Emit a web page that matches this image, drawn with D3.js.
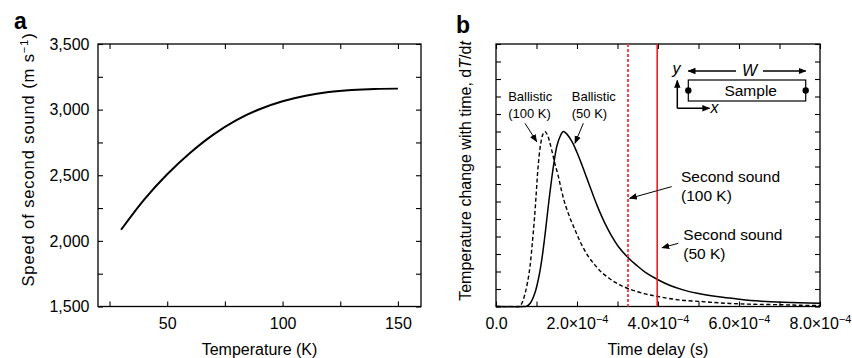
<!DOCTYPE html>
<html>
<head>
<meta charset="utf-8">
<script src="https://cdn.jsdelivr.net/npm/d3@7"></script>
<style>
  body { margin: 0; background: #fff; }
  svg { display: block; font-family: "Liberation Sans", Arial, sans-serif; }
  .tick line { stroke: #000; stroke-width: 1.1; }
  .tick text { font-size: 16px; fill: #000; }
</style>
</head>
<body>
<div id="chart"></div>
<script>
// panel a: speed of second sound vs temperature
const temperatureK = [30, 40, 50, 60, 70, 80, 90, 100, 110, 120, 130, 140, 150];
const speedSecondSound = [2085, 2315, 2508, 2672, 2810, 2920, 3003, 3064, 3106, 3134, 3150, 3158, 3160];

// panel b: time delay in units of 1e-4 s, dT/dt in arbitrary units
const time50K = [0, 0.70, 0.76, 0.85, 0.96, 1.05, 1.13, 1.20, 1.25, 1.31, 1.375, 1.44, 1.50, 1.58, 1.66, 1.75, 1.87, 2.0, 2.12, 2.24, 2.36, 2.5, 2.69, 2.85, 3.02, 3.27, 3.5, 3.68, 4.0, 4.3, 4.62, 5.0, 5.45, 6.0, 6.5, 7.09, 7.5, 8.0];
const dTdt50K = [0, 0, 0.02, 0.2, 0.77, 1.6, 2.67, 3.9, 4.9, 6.1, 7.3, 8.35, 9.14, 9.7, 10.0, 9.85, 9.45, 8.8, 8.1, 7.35, 6.6, 5.75, 4.75, 4.05, 3.43, 2.77, 2.3, 1.97, 1.53, 1.2, 0.95, 0.74, 0.57, 0.42, 0.31, 0.24, 0.21, 0.19];
const time100K = [0, 0.55, 0.59, 0.66, 0.72, 0.78, 0.84, 0.90, 0.96, 1.0, 1.04, 1.10, 1.16, 1.21, 1.27, 1.32, 1.375, 1.45, 1.54, 1.62, 1.70, 1.82, 1.95, 2.1, 2.28, 2.45, 2.61, 2.8, 3.0, 3.27, 3.68, 4.0, 4.5, 5.04, 5.5, 6.02, 6.5, 7.09, 7.5, 8.0];
const dTdt100K = [0, 0, 0.02, 0.3, 0.77, 1.4, 2.29, 3.7, 5.34, 6.7, 8.0, 9.25, 9.85, 10.0, 9.8, 9.45, 8.95, 8.2, 7.43, 6.6, 5.9, 5.1, 4.38, 3.6, 2.86, 2.35, 1.95, 1.6, 1.3, 1.02, 0.72, 0.57, 0.38, 0.29, 0.21, 0.15, 0.12, 0.1, 0.07, 0.06];
const secondSoundTimes = [3.26, 3.98]; // 100 K, 50 K

const xTickLabelsB = ["0.0", "2.0", "4.0", "6.0", "8.0"];

const W = 852, H = 358;
const svg = d3.select("#chart").append("svg").attr("width", W).attr("height", H);

const defs = svg.append("defs");
defs.append("marker").attr("id", "head")
    .attr("viewBox", "0 0 10 10").attr("refX", 9).attr("refY", 5)
    .attr("markerWidth", 8).attr("markerHeight", 8).attr("markerUnits", "userSpaceOnUse")
    .attr("orient", "auto")
    .append("path").attr("d", "M0,1 L10,5 L0,9 Z").attr("fill", "#000");

// frame + inward ticks on all four sides, labels only bottom / left
function frame(g, x, y, xTicks, yTicks, xFmt, yFmt) {
    const [x0, x1] = x.range(), [y0, y1] = y.range();
    const bottom = g.append("g").attr("transform", `translate(0,${y0})`)
        .call(d3.axisBottom(x).tickValues(xTicks).tickSize(-5).tickSizeOuter(0).tickPadding(11).tickFormat(xFmt));
    g.append("g").attr("transform", `translate(0,${y1})`)
        .call(d3.axisTop(x).tickValues(xTicks).tickSize(-5).tickSizeOuter(0).tickFormat(""));
    g.append("g").attr("transform", `translate(${x0},0)`)
        .call(d3.axisLeft(y).tickValues(yTicks).tickSize(-5).tickSizeOuter(0).tickPadding(8.5).tickFormat(yFmt));
    g.append("g").attr("transform", `translate(${x1},0)`)
        .call(d3.axisRight(y).tickValues(yTicks).tickSize(-5).tickSizeOuter(0).tickFormat(""));
    g.selectAll(".domain").remove();
    g.append("rect").attr("x", x0).attr("y", y1).attr("width", x1 - x0).attr("height", y0 - y1)
        .attr("fill", "none").attr("stroke", "#000").attr("stroke-width", 1.3);
    return bottom;
}

// ---------- panel a ----------
const xA = d3.scaleLinear().domain([20, 160]).range([98, 421]);
const yA = d3.scaleLinear().domain([1500, 3500]).range([306.5, 44]);
const gA = svg.append("g");
frame(gA, xA, yA, d3.range(25, 151, 25), d3.range(1500, 3501, 250),
    d => d % 50 === 0 ? d : "",
    d => d % 500 === 0 ? d3.format(",")(d) : "");

gA.append("path")
    .datum(temperatureK.map((t, i) => [t, speedSecondSound[i]]))
    .attr("fill", "none").attr("stroke", "#000").attr("stroke-width", 2)
    .attr("d", d3.line().x(d => xA(d[0])).y(d => yA(d[1])).curve(d3.curveCatmullRom.alpha(0.5)));

gA.append("text").attr("x", 259.5).attr("y", 355).attr("text-anchor", "middle")
    .attr("font-size", 16).text("Temperature (K)");
const ylabA = gA.append("text").attr("transform", "translate(34,159.5) rotate(-90)")
    .attr("text-anchor", "middle").attr("font-size", 16.5).attr("letter-spacing", 0.9);
ylabA.append("tspan").text("Speed of second sound (m s");
ylabA.append("tspan").attr("dy", -6).attr("font-size", 11).text("\u22121");
ylabA.append("tspan").attr("dy", 6).text(")");

svg.append("text").attr("x", 14).attr("y", 29).attr("font-size", 23).attr("font-weight", "bold").text("a");

// ---------- panel b ----------
const xB = d3.scaleLinear().domain([0, 8]).range([496, 820]);
const yB = d3.scaleLinear().domain([0, 15]).range([306.5, 44]);
const gB = svg.append("g");
const bottomB = frame(gB, xB, yB, d3.range(0, 8.01, 1), d3.range(0, 15.01, 1), () => "", () => "");
bottomB.selectAll(".tick text").each(function (d) {
    if (d % 2 !== 0) return;
    const t = d3.select(this);
    const lab = xTickLabelsB[d / 2];
    if (d === 0) { t.text(lab); return; }
    t.append("tspan").text(lab + "\u00d710");
    t.append("tspan").attr("dy", -6).attr("font-size", 11).text("\u22124");
});

const lineB = d3.line().x(d => xB(d[0])).y(d => yB(Math.max(0, d[1])))
    .curve(d3.curveCatmullRom.alpha(0.5));
gB.append("path").datum(time100K.map((t, i) => [t, dTdt100K[i]]))
    .attr("fill", "none").attr("stroke", "#000").attr("stroke-width", 1.4)
    .attr("stroke-dasharray", "4,2.5").attr("d", lineB);
gB.append("path").datum(time50K.map((t, i) => [t, dTdt50K[i]]))
    .attr("fill", "none").attr("stroke", "#000").attr("stroke-width", 1.5).attr("d", lineB);

gB.selectAll(".second").data(secondSoundTimes).join("line")
    .attr("x1", d => xB(d)).attr("x2", d => xB(d))
    .attr("y1", yB(15)).attr("y2", yB(0))
    .attr("stroke", (d, i) => i === 0 ? "#f4474e" : "#ec1c24")
    .attr("stroke-width", (d, i) => i === 0 ? 2 : 1.6)
    .attr("stroke-dasharray", (d, i) => i === 0 ? "3,2" : null);

const ylabB = gB.append("text").attr("transform", "translate(471,171) rotate(-90)")
    .attr("text-anchor", "middle").attr("font-size", 16);
ylabB.append("tspan").text("Temperature change with time, d");
ylabB.append("tspan").attr("font-style", "italic").text("T");
ylabB.append("tspan").text("/d");
ylabB.append("tspan").attr("font-style", "italic").text("t");

gB.append("text").attr("x", xB(4)).attr("y", 355).attr("text-anchor", "middle")
    .attr("font-size", 16).text("Time delay (s)");

svg.append("text").attr("x", 456).attr("y", 33).attr("font-size", 23).attr("font-weight", "bold").text("b");

// annotations (data units)
function label(x, y, lines, size, gap) {
    const t = gB.append("text").attr("x", xB(x)).attr("y", yB(y)).attr("font-size", size);
    lines.forEach((s, i) => t.append("tspan").attr("x", xB(x)).attr("dy", i ? gap : 0).text(s));
}
function arrow(x1, y1, x2, y2) {
    gB.append("line").attr("x1", xB(x1)).attr("y1", yB(y1)).attr("x2", xB(x2)).attr("y2", yB(y2))
        .attr("stroke", "#000").attr("stroke-width", 1).attr("marker-end", "url(#head)");
}
label(0.30, 11.77, ["Ballistic", "(100 K)"], 13, 17);
label(1.87, 11.77, ["Ballistic", "(50 K)"], 13, 17);
arrow(0.716, 10.47, 1.005, 9.42);
arrow(2.156, 10.47, 1.95, 9.33);
label(4.568, 7.14, ["Second sound", "(100 K)"], 15.5, 19);
label(4.625, 3.8, ["Second sound", "(50 K)"], 15.5, 19);
arrow(4.338, 6.85, 3.30, 6.18);
arrow(4.501, 3.61, 4.10, 3.36);

// inset sketch of the sample
const ins = svg.append("g");
ins.append("rect").attr("x", 688.3).attr("y", 80).attr("width", 117.4).attr("height", 21)
    .attr("fill", "#fff").attr("stroke", "#000").attr("stroke-width", 1.2);
ins.selectAll("circle").data([688.3, 805.7]).join("circle")
    .attr("cx", d => d).attr("cy", 90.5).attr("r", 3.2).attr("fill", "#000");
ins.append("text").attr("x", 750.7).attr("y", 96).attr("text-anchor", "middle")
    .attr("font-size", 15.5).text("Sample");
ins.append("text").attr("x", 749.5).attr("y", 75.5).attr("text-anchor", "middle")
    .attr("font-size", 16).attr("font-style", "italic").text("W");
const insArrow = (x1, y1, x2, y2) => ins.append("line")
    .attr("x1", x1).attr("y1", y1).attr("x2", x2).attr("y2", y2)
    .attr("stroke", "#000").attr("stroke-width", 1.5).attr("marker-end", "url(#head)");
insArrow(736, 71, 688.3, 71);
insArrow(763, 71, 805.7, 71);
insArrow(677.3, 108.3, 677.3, 80.5);
insArrow(677.3, 108.3, 709.5, 108.3);
ins.append("text").attr("x", 672.5).attr("y", 74).attr("font-size", 16).attr("font-style", "italic").text("y");
ins.append("text").attr("x", 710.5).attr("y", 113).attr("font-size", 16).attr("font-style", "italic").text("x");
</script>
</body>
</html>
